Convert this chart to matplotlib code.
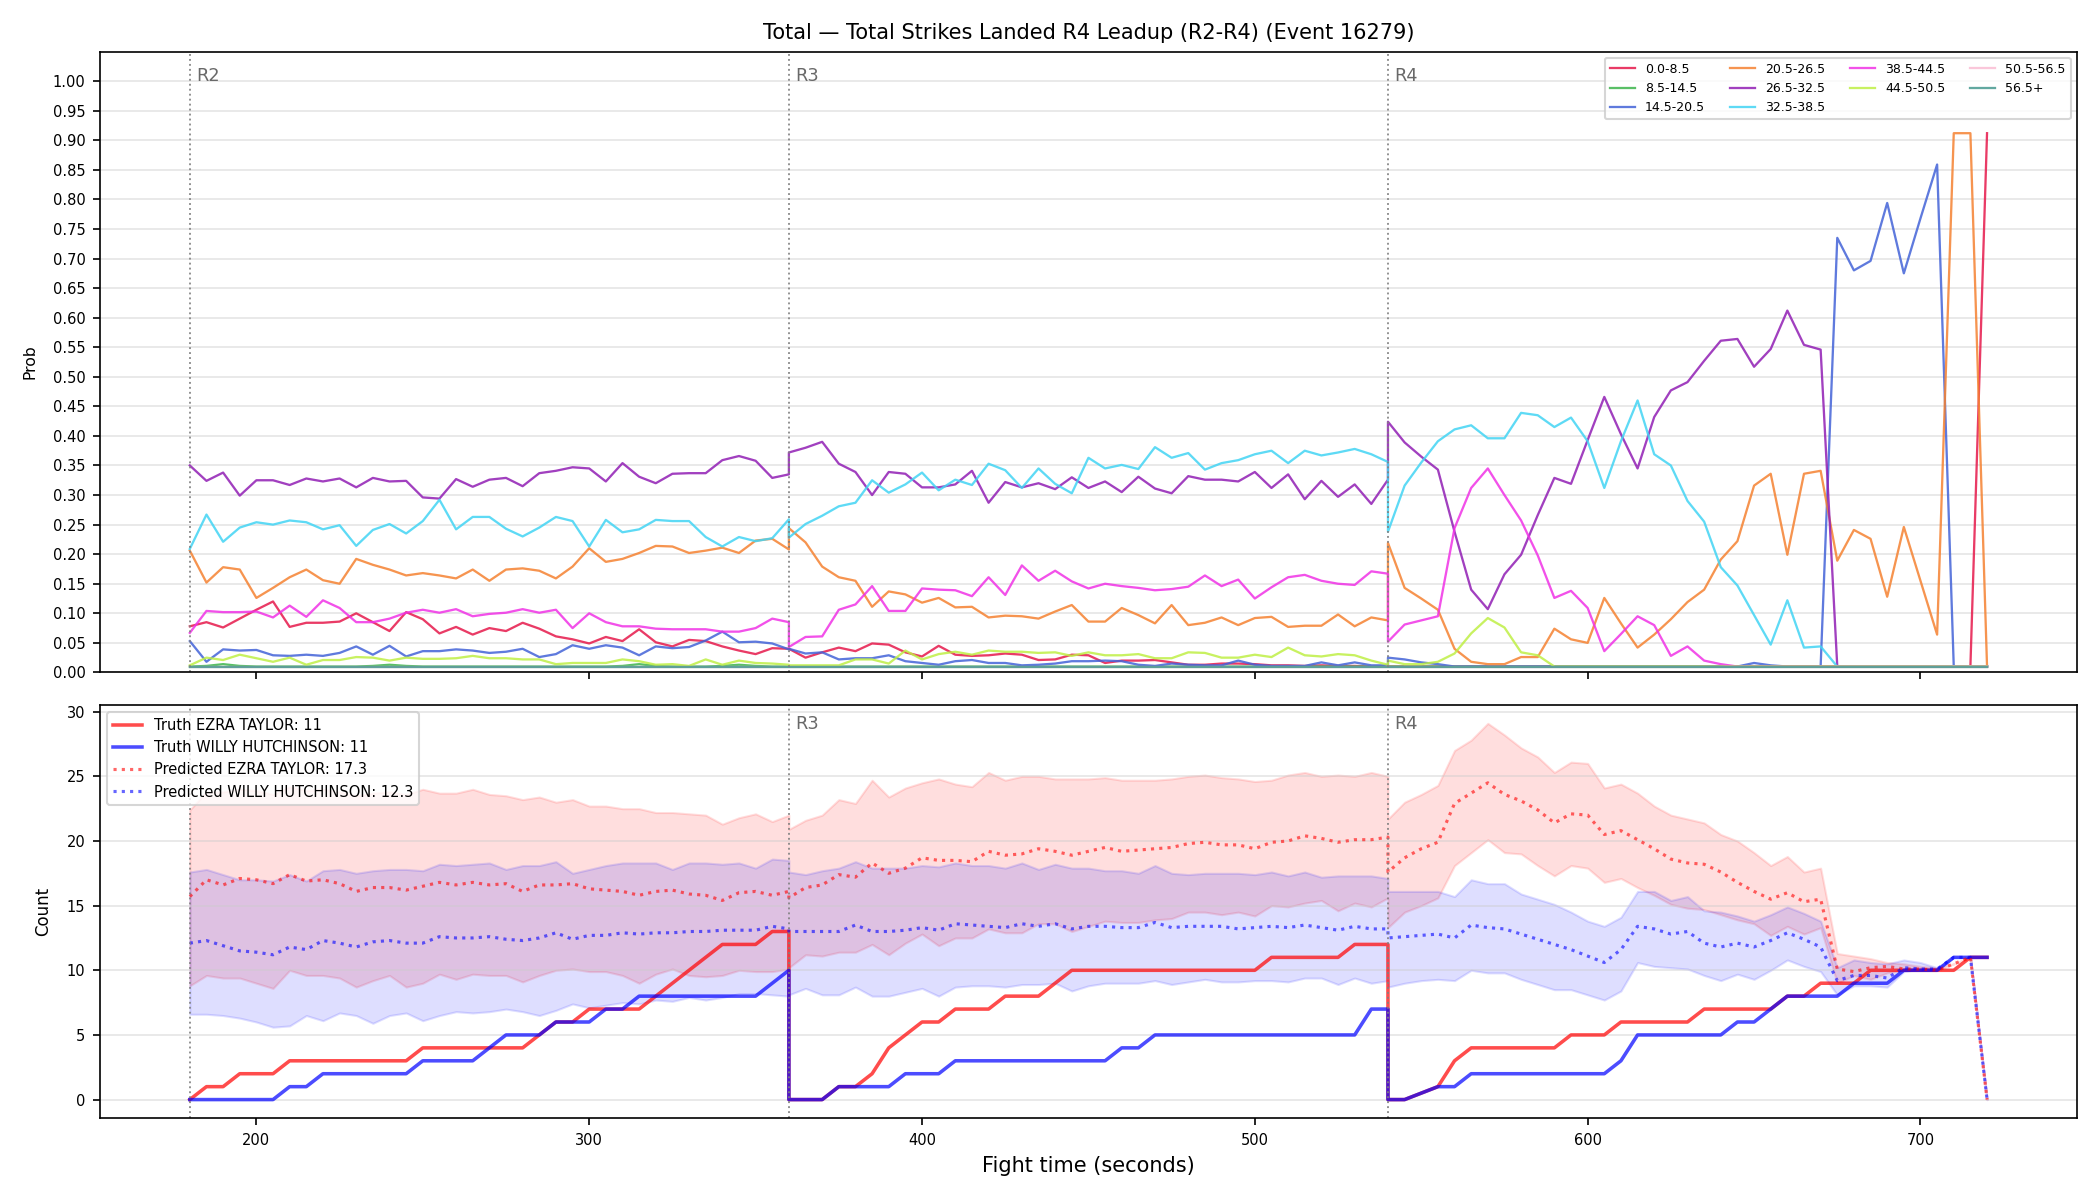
import numpy as np
import matplotlib
matplotlib.use("Agg")
import matplotlib.pyplot as plt
from matplotlib.transforms import blended_transform_factory

plt.rcParams['font.family'] = ['DejaVu Sans']
plt.rcParams['font.size'] = 7

# ---------------- data ----------------
round_starts = [180, 360, 540]
round_labels = ["R2", "R3", "R4"]
offsets = list(range(0, 181, 5))

bin_labels = ["0.0-8.5", "8.5-14.5", "14.5-20.5", "20.5-26.5", "26.5-32.5",
              "32.5-38.5", "38.5-44.5", "44.5-50.5", "50.5-56.5", "56.5+"]
bin_colors = ["#e6194b", "#3cb44b", "#4363d8", "#f58231", "#911eb4",
              "#42d4f4", "#f032e6", "#bfef45", "#fabed4", "#469990"]

p_0_8 = [0.078,0.085,0.076,0.091,0.106,0.120,0.077,0.084,0.084,0.086,0.100,0.085,0.070,0.102,0.090,0.066,0.077,0.064,0.075,0.070,0.084,0.074,0.061,0.056,0.049,0.060,0.053,0.073,0.051,0.044,0.055,0.053,0.044,0.037,0.031,0.041,0.040,
         0.040,0.025,0.034,0.042,0.036,0.049,0.047,0.034,0.027,0.045,0.030,0.028,0.029,0.032,0.030,0.021,0.022,0.030,0.029,0.016,0.020,0.020,0.021,0.017,0.013,0.013,0.015,0.015,0.014,0.012,0.012,0.011,0.012,0.011,0.011,0.010,0.010,
         0.010,0.010,0.010,0.010,0.010,0.010,0.010,0.010,0.010,0.010,0.010,0.010,0.010,0.010,0.010,0.010,0.010,0.010,0.010,0.010,0.010,0.010,0.010,0.010,0.010,0.010,0.010,0.010,0.010,0.010,0.010,0.010,0.010,0.010,0.010,0.010,0.912]
p_8_14 = [0.010,0.011,0.014,0.011,0.010,0.010,0.010,0.010,0.010,0.010,0.010,0.011,0.013,0.011,0.010,0.010,0.010,0.010,0.010,0.010,0.010,0.010,0.010,0.010,0.010,0.010,0.011,0.014,0.011,0.010,0.010,0.010,0.011,0.013,0.011,0.010,0.010,
          0.010,0.010,0.010,0.010,0.010,0.010,0.010,0.010,0.010,0.010,0.010,0.010,0.010,0.010,0.010,0.010,0.010,0.010,0.010,0.010,0.010,0.010,0.010,0.010,0.010,0.010,0.010,0.010,0.010,0.010,0.010,0.010,0.010,0.010,0.010,0.010,0.010,
          0.010,0.010,0.010,0.010,0.010,0.010,0.010,0.010,0.010,0.010,0.010,0.010,0.010,0.010,0.010,0.010,0.010,0.010,0.010,0.010,0.010,0.010,0.010,0.010,0.010,0.010,0.010,0.010,0.010,0.010,0.010,0.010,0.010,0.010,0.010,0.010,0.010]
p_14_20 = [0.053,0.018,0.039,0.037,0.038,0.029,0.028,0.030,0.028,0.033,0.044,0.030,0.045,0.027,0.036,0.036,0.039,0.037,0.033,0.035,0.040,0.026,0.031,0.046,0.040,0.046,0.042,0.029,0.044,0.041,0.043,0.054,0.069,0.051,0.052,0.049,0.039,
           0.040,0.032,0.034,0.022,0.024,0.024,0.029,0.019,0.016,0.013,0.019,0.021,0.016,0.016,0.012,0.013,0.015,0.019,0.019,0.020,0.019,0.013,0.011,0.015,0.013,0.012,0.012,0.020,0.013,0.011,0.011,0.011,0.017,0.012,0.017,0.012,0.012,
           0.025,0.022,0.017,0.014,0.010,0.010,0.010,0.010,0.010,0.010,0.010,0.010,0.010,0.010,0.010,0.010,0.010,0.010,0.010,0.010,0.010,0.010,0.016,0.012,0.010,0.010,0.010,0.735,0.680,0.696,0.794,0.675,0.768,0.859,0.010,0.010,0.010]
p_20_26 = [0.206,0.152,0.178,0.174,0.126,0.143,0.161,0.174,0.156,0.150,0.192,0.182,0.174,0.164,0.168,0.164,0.159,0.174,0.155,0.174,0.176,0.172,0.159,0.179,0.210,0.187,0.192,0.202,0.214,0.213,0.202,0.206,0.211,0.202,0.223,0.226,0.208,
           0.244,0.220,0.179,0.161,0.155,0.111,0.137,0.132,0.118,0.126,0.110,0.111,0.093,0.096,0.095,0.091,0.103,0.114,0.086,0.086,0.109,0.097,0.083,0.114,0.080,0.084,0.093,0.080,0.092,0.094,0.077,0.079,0.079,0.098,0.078,0.093,0.088,
           0.219,0.143,0.125,0.106,0.040,0.018,0.014,0.014,0.026,0.026,0.074,0.056,0.050,0.126,0.083,0.042,0.064,0.090,0.119,0.140,0.191,0.222,0.316,0.336,0.199,0.336,0.341,0.189,0.241,0.226,0.128,0.246,0.155,0.064,0.912,0.912,0.010]
p_26_32 = [0.350,0.324,0.338,0.299,0.325,0.325,0.317,0.328,0.323,0.328,0.313,0.329,0.323,0.324,0.296,0.294,0.327,0.314,0.326,0.329,0.315,0.337,0.341,0.347,0.345,0.323,0.354,0.331,0.320,0.336,0.337,0.337,0.359,0.366,0.358,0.329,0.335,
           0.372,0.380,0.390,0.353,0.339,0.300,0.339,0.336,0.313,0.313,0.318,0.341,0.287,0.322,0.313,0.320,0.310,0.330,0.312,0.323,0.305,0.331,0.311,0.303,0.332,0.326,0.326,0.323,0.339,0.312,0.335,0.293,0.324,0.297,0.318,0.285,0.326,
           0.424,0.389,0.365,0.343,0.238,0.140,0.107,0.166,0.199,0.266,0.329,0.319,0.393,0.466,0.403,0.345,0.432,0.477,0.491,0.527,0.561,0.564,0.517,0.547,0.612,0.554,0.546,0.010,0.010,0.010,0.010,0.010,0.010,0.010,0.010,0.010,0.010]
p_32_38 = [0.209,0.267,0.221,0.245,0.254,0.250,0.257,0.254,0.242,0.249,0.214,0.241,0.251,0.235,0.256,0.292,0.242,0.263,0.263,0.243,0.230,0.245,0.263,0.256,0.213,0.258,0.237,0.242,0.258,0.256,0.256,0.229,0.213,0.229,0.222,0.227,0.259,
           0.228,0.251,0.265,0.281,0.287,0.325,0.304,0.318,0.338,0.308,0.326,0.317,0.353,0.342,0.312,0.345,0.319,0.303,0.363,0.345,0.351,0.344,0.381,0.363,0.371,0.343,0.354,0.359,0.369,0.375,0.354,0.375,0.367,0.372,0.378,0.369,0.356,
           0.238,0.316,0.355,0.391,0.411,0.418,0.396,0.396,0.439,0.435,0.415,0.431,0.391,0.312,0.391,0.460,0.369,0.350,0.290,0.255,0.178,0.147,0.097,0.047,0.122,0.042,0.044,0.010,0.010,0.010,0.010,0.010,0.010,0.010,0.010,0.010,0.010]
p_38_44 = [0.067,0.104,0.102,0.102,0.103,0.093,0.113,0.094,0.122,0.109,0.085,0.085,0.091,0.101,0.106,0.101,0.107,0.095,0.099,0.101,0.107,0.101,0.106,0.075,0.100,0.085,0.078,0.078,0.074,0.073,0.073,0.073,0.069,0.069,0.075,0.091,0.085,
           0.043,0.060,0.061,0.106,0.115,0.146,0.104,0.104,0.142,0.140,0.139,0.129,0.161,0.131,0.181,0.155,0.172,0.154,0.142,0.150,0.146,0.143,0.139,0.141,0.145,0.164,0.146,0.157,0.125,0.144,0.161,0.165,0.155,0.150,0.148,0.171,0.167,
           0.052,0.081,0.088,0.095,0.244,0.312,0.345,0.300,0.257,0.198,0.126,0.138,0.109,0.036,0.065,0.095,0.080,0.028,0.044,0.020,0.014,0.010,0.010,0.010,0.010,0.010,0.010,0.010,0.010,0.010,0.010,0.010,0.010,0.010,0.010,0.010,0.010]
p_44_50 = [0.012,0.025,0.021,0.030,0.024,0.018,0.025,0.013,0.021,0.021,0.026,0.025,0.020,0.025,0.023,0.023,0.024,0.028,0.024,0.024,0.022,0.022,0.014,0.016,0.016,0.016,0.022,0.019,0.013,0.014,0.011,0.022,0.013,0.020,0.016,0.015,0.013,
           0.012,0.012,0.012,0.012,0.022,0.022,0.015,0.037,0.022,0.031,0.035,0.030,0.037,0.035,0.035,0.033,0.034,0.028,0.034,0.029,0.029,0.031,0.024,0.024,0.034,0.033,0.025,0.025,0.030,0.026,0.042,0.029,0.027,0.031,0.029,0.020,0.013,
           0.020,0.014,0.014,0.018,0.032,0.066,0.092,0.076,0.034,0.029,0.010,0.010,0.010,0.010,0.010,0.010,0.010,0.010,0.010,0.010,0.010,0.010,0.010,0.010,0.010,0.010,0.010,0.010,0.010,0.010,0.010,0.010,0.010,0.010,0.010,0.010,0.010]
p_50_56 = [0.010] * 111
p_56_plus = [0.010] * 111

truth_red = [0,1,1,2,2,2,3,3,3,3,3,3,3,3,4,4,4,4,4,4,4,5,6,6,7,7,7,7,8,9,10,11,12,12,12,13,13,
             0,0,0,1,1,2,4,5,6,6,7,7,7,8,8,8,9,10,10,10,10,10,10,10,10,10,10,10,10,11,11,11,11,11,12,12,12,
             0,0,0.5,1,3,4,4,4,4,4,4,5,5,5,6,6,6,6,6,7,7,7,7,7,8,8,9,9,9,10,10,10,10,10,10,11,11]
truth_blue = [0,0,0,0,0,0,1,1,2,2,2,2,2,2,3,3,3,3,4,5,5,5,6,6,6,7,7,8,8,8,8,8,8,8,8,9,10,
              0,0,0,1,1,1,1,2,2,2,3,3,3,3,3,3,3,3,3,3,4,4,5,5,5,5,5,5,5,5,5,5,5,5,5,7,7,
              0,0,0.5,1,1,2,2,2,2,2,2,2,2,2,3,5,5,5,5,5,5,6,6,7,8,8,8,8,9,9,9,10,10,10,11,11,11]
pred_red = [15.7,17.0,16.6,17.1,17.0,16.7,17.4,16.9,17.0,16.7,16.1,16.4,16.4,16.2,16.5,16.8,16.6,16.8,16.6,16.7,16.1,16.6,16.6,16.7,16.3,16.2,16.1,15.8,16.1,16.2,15.9,15.8,15.4,16.0,16.1,15.8,16.1,
            15.6,16.4,16.6,17.4,17.2,18.3,17.5,17.9,18.7,18.5,18.5,18.4,19.2,18.9,19.0,19.4,19.2,18.9,19.2,19.5,19.2,19.3,19.4,19.5,19.8,19.9,19.7,19.7,19.4,19.9,20.0,20.4,20.2,19.9,20.1,20.1,20.3,
            17.6,18.7,19.4,19.9,22.9,23.7,24.5,23.6,23.1,22.4,21.4,22.1,22.0,20.5,20.8,20.1,19.4,18.6,18.3,18.2,17.6,16.8,16.1,15.5,16.0,15.3,15.5,10.1,9.9,10.2,10.3,10.1,10.1,10.0,10.5,11.0,0.0]
pred_blue = [12.1,12.3,11.9,11.5,11.4,11.2,11.8,11.6,12.3,12.1,11.8,12.2,12.3,12.1,12.1,12.6,12.5,12.5,12.6,12.4,12.3,12.5,12.9,12.4,12.7,12.7,12.9,12.8,12.9,12.9,13.0,13.0,13.1,13.1,13.1,13.4,13.2,
             13.0,13.0,13.0,13.0,13.5,13.0,13.0,13.1,13.3,13.1,13.6,13.5,13.4,13.3,13.6,13.4,13.6,13.2,13.4,13.4,13.3,13.3,13.7,13.3,13.4,13.4,13.4,13.2,13.3,13.4,13.3,13.5,13.3,13.1,13.4,13.2,13.2,
             12.5,12.6,12.7,12.8,12.5,13.5,13.3,13.2,12.8,12.4,12.0,11.6,11.1,10.6,11.6,13.4,13.2,12.8,13.0,12.1,11.8,12.1,11.8,12.3,12.9,12.4,11.8,9.2,9.6,9.6,9.4,10.2,10.1,10.1,11.0,11.0,0.0]
red_hi = [22.4,23.8,23.8,24.0,23.9,23.6,24.2,23.9,24.0,23.8,23.5,23.7,23.8,23.6,24.0,23.7,23.7,24.0,23.6,23.5,23.2,23.4,23.0,23.2,22.7,22.7,22.5,22.5,22.2,22.2,22.1,22.0,21.3,21.8,22.1,21.5,22.0,
          20.9,21.6,22.0,23.2,22.9,24.7,23.4,24.1,24.5,24.8,24.4,24.2,25.3,24.7,25.0,25.0,24.8,24.8,24.8,24.9,24.7,24.7,24.7,24.8,25.0,25.1,24.9,24.8,24.6,24.7,25.1,25.3,25.0,25.1,25.0,25.3,25.0,
          21.7,23.0,23.6,24.3,27.0,27.8,29.1,28.2,27.2,26.5,25.3,26.1,26.0,24.1,24.4,23.7,22.7,22.0,21.7,21.4,20.5,20.0,19.1,18.1,18.8,17.6,17.9,11.3,11.1,10.9,10.6,10.5,10.3,10.2,10.5,11.0,0.0]
red_lo = [8.8,9.6,9.4,9.4,9.0,8.6,10.0,9.6,9.6,9.4,8.7,9.2,9.6,8.7,9.0,9.7,9.3,9.7,9.6,9.6,9.1,9.6,10.0,10.1,9.9,9.9,9.6,9.0,9.7,10.1,9.6,9.5,9.6,10.0,9.9,9.9,10.1,
          10.2,11.2,11.1,11.4,11.4,12.0,11.2,12.1,12.8,11.9,12.5,12.5,13.2,12.9,12.9,13.6,13.6,13.0,13.4,13.8,13.7,13.7,13.9,14.0,14.5,14.5,14.3,14.5,14.2,15.0,14.9,15.2,15.4,14.6,15.2,14.9,15.6,
          13.3,14.5,15.0,15.6,18.1,19.1,20.1,19.1,19.0,18.1,17.3,18.1,17.9,16.8,17.1,16.4,15.8,15.1,14.8,14.7,14.3,13.9,13.6,12.7,13.4,12.8,13.3,9.0,9.6,9.3,9.8,10.0,10.0,10.0,10.5,11.0,0.0]
blue_hi = [17.6,17.8,17.4,17.0,17.0,16.9,17.4,16.9,17.7,17.8,17.5,17.7,17.8,17.8,17.7,18.2,18.1,18.2,18.3,17.8,18.1,18.1,18.4,17.5,17.8,18.1,18.3,18.3,18.3,17.8,18.3,18.3,18.2,18.3,17.9,18.6,18.5,
           17.6,17.4,17.7,17.9,18.4,17.9,17.9,17.9,18.1,18.0,18.3,18.1,18.1,17.9,18.3,17.8,18.2,17.9,17.9,17.7,17.7,17.5,18.1,17.5,17.4,17.5,17.5,17.5,17.4,17.6,17.3,17.6,17.2,17.3,17.3,17.3,17.1,
           16.1,16.1,16.1,16.1,15.7,17.0,16.7,16.7,15.9,15.5,15.1,14.5,13.8,13.4,14.1,16.1,16.1,15.4,15.7,14.6,14.5,14.2,13.8,14.3,14.9,14.4,13.8,10.2,10.8,10.6,10.5,10.8,10.6,10.2,11.0,11.0,0.0]
blue_lo = [6.6,6.6,6.5,6.3,6.0,5.6,5.7,6.5,6.1,6.7,6.5,5.9,6.5,6.7,6.1,6.5,6.8,6.7,6.8,7.0,6.8,6.5,6.9,7.4,7.1,7.3,7.5,7.4,7.7,7.6,7.9,7.7,7.9,8.2,8.2,8.1,8.0,
           8.1,8.6,8.1,8.1,8.7,8.0,8.0,8.3,8.6,8.0,8.7,8.8,8.8,8.7,8.9,8.9,9.0,8.4,8.8,9.0,9.0,9.0,9.2,8.9,9.1,9.3,9.1,9.1,9.2,9.2,9.1,9.4,9.4,8.9,9.4,9.0,9.2,
           8.7,9.0,9.2,9.3,9.2,10.0,9.8,9.8,9.3,8.9,8.5,8.5,8.1,7.7,8.4,10.6,10.3,10.2,10.1,9.6,9.2,9.7,9.3,10.0,10.8,10.3,9.9,8.1,8.8,8.8,8.7,9.9,10.1,10.0,11.0,11.0,0.0]

name_red = "EZRA TAYLOR"
name_blue = "WILLY HUTCHINSON"
final_truth_red, final_truth_blue = 11, 11
final_pred_red, final_pred_blue = 17.3, 12.3

# time axis: each round contributes its own 0..180 s samples
t = np.concatenate([[s + o for o in offsets] for s in round_starts])
probs = [p_0_8, p_8_14, p_14_20, p_20_26, p_26_32, p_32_38, p_38_44, p_44_50, p_50_56, p_56_plus]

# ---------------- figure ----------------
fig, (ax1, ax2) = plt.subplots(2, 1, figsize=(14, 8), dpi=150, sharex=True,
                               gridspec_kw={'height_ratios': [3, 2]})
fig.subplots_adjust(left=0.0476, right=0.989, top=0.957, bottom=0.068, hspace=0.062)

for lab, col, vals in zip(bin_labels, bin_colors, probs):
    ax1.plot(t, vals, color=col, lw=1.1, alpha=0.85, label=lab)

ax1.set_ylim(0, 1.05)
ax1.set_yticks(np.arange(0, 1.0001, 0.05))
ax1.set_yticklabels([f"{v:.2f}" for v in np.arange(0, 1.0001, 0.05)])
ax1.set_ylabel("Prob", fontsize=7.5, labelpad=7)
ax1.grid(axis='y', color='#cccccc', alpha=0.5, lw=0.8)
ax1.set_title("Total — Total Strikes Landed R4 Leadup (R2-R4) (Event 16279)", fontsize=10)
ax1.legend(loc='upper right', ncol=4, fontsize=6)

# bottom
ax2.fill_between(t, red_lo, red_hi, color='red', alpha=0.13)
ax2.fill_between(t, blue_lo, blue_hi, color='blue', alpha=0.13)
ax2.plot(t, truth_red, color='red', lw=1.7, alpha=0.7, label=f"Truth {name_red}: {final_truth_red}")
ax2.plot(t, truth_blue, color='blue', lw=1.7, alpha=0.7, label=f"Truth {name_blue}: {final_truth_blue}")
ax2.plot(t, pred_red, color='red', lw=1.5, ls=':', alpha=0.6, label=f"Predicted {name_red}: {final_pred_red}")
ax2.plot(t, pred_blue, color='blue', lw=1.5, ls=':', alpha=0.6, label=f"Predicted {name_blue}: {final_pred_blue}")
ax2.set_ylabel("Count", fontsize=8, labelpad=7)
ax2.set_xlabel("Fight time (seconds)", fontsize=10)
ax2.grid(axis='y', color='#cccccc', alpha=0.5, lw=0.8)

for i, ax in enumerate((ax1, ax2)):
    tr = blended_transform_factory(ax.transData, ax.transAxes)
    for s, lab in zip(round_starts, round_labels):
        ax.axvline(s, color='gray', ls=':', lw=0.9, alpha=0.9)
        if i == 1 and s == round_starts[0]:
            continue  # hidden behind the legend in the reference
        ax.text(s + 2, 0.975, lab, transform=tr, color='dimgray', fontsize=8.5, va='top', ha='left')

ax2.legend(loc='upper left', fontsize=7)

fig.savefig("out.png", dpi=150)
